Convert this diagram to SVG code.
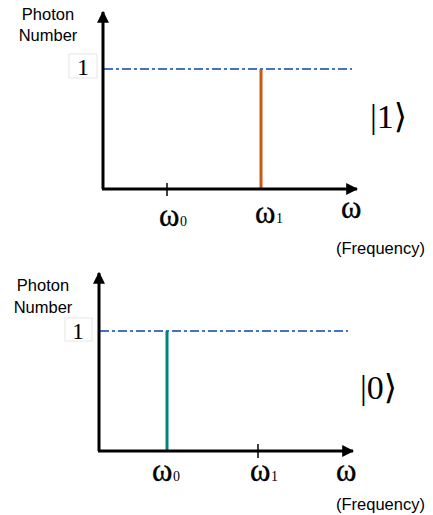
<svg xmlns="http://www.w3.org/2000/svg" width="433" height="515" viewBox="0 0 433 515">
<style>
.axis{stroke:#000;stroke-width:3;fill:none}
.tick{stroke:#000;stroke-width:1.5}
.dash{stroke:#4472C4;stroke-width:2;stroke-dasharray:9,3,3,3;fill:none}
.lbl{font-family:"Liberation Sans","Open Sans",sans-serif;font-size:16.5px;fill:#000}
.one{font-family:"Liberation Serif","DejaVu Serif",serif;font-size:24px;fill:#000}
.box{fill:#fff;stroke:#e6e6e6;stroke-width:1}
.om{font-family:"Liberation Serif","DejaVu Serif",serif;font-size:31px;fill:#000;stroke:#000;stroke-width:0.4}
.sub{font-family:"Liberation Serif","DejaVu Serif",serif;font-size:14px;fill:#000}
.ket{font-family:"Liberation Serif","DejaVu Serif",serif;font-size:34px;fill:#000}
.freq{font-family:"Liberation Sans","Open Sans",sans-serif;font-size:16.5px;fill:#000}
</style>
<defs>
<marker id="ah" viewBox="0 0 10 10" refX="9" refY="5" markerWidth="4" markerHeight="4" orient="auto" markerUnits="strokeWidth">
<path d="M0,0 L10,5 L0,10 z" fill="#000"/>
</marker>
</defs>
<g id="top-panel">
<g id="top-labels">
<text class="lbl" x="48" y="20" text-anchor="middle">Photon</text>
<text class="lbl" x="48" y="41" text-anchor="middle">Number</text>
<rect class="box" x="69" y="54" width="28" height="24"/>
<text class="one" x="83" y="75" text-anchor="middle">1</text>
<text class="ket" x="370" y="128">|1⟩</text>
<text class="om" x="159" y="226">ω</text><text class="sub" x="180" y="226">0</text>
<text class="om" x="255" y="223">ω</text><text class="sub" x="276" y="223">1</text>
<text class="om" x="341" y="218">ω</text>
<text class="freq" x="336" y="254">(Frequency)</text>
</g>
<g id="top-connectors">
<line class="dash" x1="104" y1="69" x2="352" y2="69"/>
<line x1="261" y1="69" x2="261" y2="189" stroke="#C55A11" stroke-width="3"/>
<line class="tick" x1="167" y1="183" x2="167" y2="196"/>
<polyline class="axis" points="103,189 103,12" marker-end="url(#ah)"/>
<polyline class="axis" points="102,189 357,189" marker-end="url(#ah)"/>
</g>
</g>
<g id="bottom-panel">
<g id="bottom-labels">
<text class="lbl" x="43" y="291" text-anchor="middle">Photon</text>
<text class="lbl" x="43" y="313" text-anchor="middle">Number</text>
<rect class="box" x="65" y="318" width="27" height="23"/>
<text class="one" x="78" y="339" text-anchor="middle">1</text>
<text class="ket" x="360" y="399">|0⟩</text>
<text class="om" x="152" y="481">ω</text><text class="sub" x="173" y="481">0</text>
<text class="om" x="250" y="481">ω</text><text class="sub" x="271" y="481">1</text>
<text class="om" x="336" y="481">ω</text>
<text class="freq" x="336" y="510">(Frequency)</text>
</g>
<g id="bottom-connectors">
<line class="dash" x1="100" y1="331" x2="348" y2="331"/>
<line x1="167" y1="331" x2="167" y2="451" stroke="#00827F" stroke-width="3"/>
<line class="tick" x1="258" y1="444" x2="258" y2="458"/>
<polyline class="axis" points="99,451 99,273" marker-end="url(#ah)"/>
<polyline class="axis" points="98,451 353,451" marker-end="url(#ah)"/>
</g>
</g>
</svg>
